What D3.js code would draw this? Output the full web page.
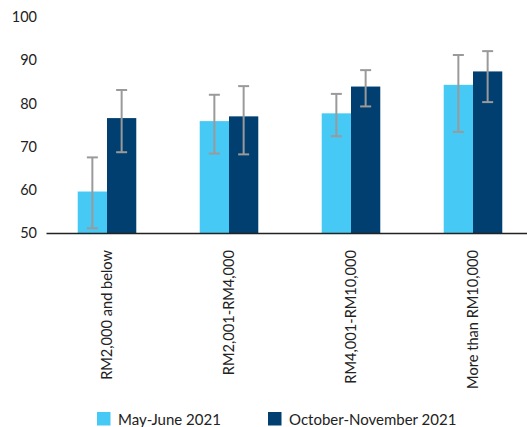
<!DOCTYPE html>
<html><head><meta charset="utf-8">
<script src="https://cdn.jsdelivr.net/npm/d3@7"></script>
<style>body{margin:0;background:#fff;} svg{display:block;font-family:Lato,"Open Sans",sans-serif;}</style>
</head><body><svg id="c" width="527" height="427"></svg>
<script>
const categories = ["RM2,000 and below","RM2,001-RM4,000","RM4,001-RM10,000","More than RM10,000"];
const seriesNames = ["May-June 2021","October-November 2021"];
const mayJune = [59.6, 75.9, 77.7, 84.3];
const mayJuneLow = [51.1, 68.4, 72.4, 73.4];
const mayJuneHigh = [67.5, 82.0, 82.2, 91.2];
const octNov = [76.6, 77.0, 83.9, 87.4];
const octNovLow = [68.7, 68.2, 79.3, 80.3];
const octNovHigh = [83.1, 84.0, 87.7, 92.1];
const yTicks = [50,60,70,80,90,100];
const colors = ["#46C9F5","#003F70"];

const svg = d3.select("#c");
const y = d3.scaleLinear().domain([50,100]).range([233,17]);
const x = d3.scaleBand().domain(categories).range([46,534]).paddingInner(0.52).paddingOuter(0.26);
const xs = d3.scaleBand().domain(seriesNames).range([0,x.bandwidth()]);

const data = [];
categories.forEach((c,i)=>{
  data.push({c, s:seriesNames[0], v:mayJune[i], lo:mayJuneLow[i], hi:mayJuneHigh[i], k:0});
  data.push({c, s:seriesNames[1], v:octNov[i], lo:octNovLow[i], hi:octNovHigh[i], k:1});
});

svg.selectAll("rect.bar").data(data).join("rect").attr("class","bar")
  .attr("x",d=>x(d.c)+xs(d.s)).attr("width",xs.bandwidth())
  .attr("y",d=>y(d.v)).attr("height",d=>y(50)-y(d.v))
  .attr("fill",d=>colors[d.k]);

// error bars
const eg = svg.append("g").attr("stroke","#9a9a9a").attr("stroke-width",2).attr("fill","none");
data.forEach(d=>{
  const cx = x(d.c)+xs(d.s)+xs.bandwidth()/2;
  eg.append("line").attr("x1",cx).attr("x2",cx).attr("y1",y(d.hi)).attr("y2",y(d.lo));
  eg.append("line").attr("x1",cx-5.5).attr("x2",cx+5.5).attr("y1",y(d.hi)).attr("y2",y(d.hi));
  eg.append("line").attr("x1",cx-5.5).attr("x2",cx+5.5).attr("y1",y(d.lo)).attr("y2",y(d.lo));
});

// y axis labels
const ya = svg.append("g").attr("transform","translate(37,0)").call(d3.axisLeft(y).tickValues(yTicks).tickSize(0).tickPadding(0));
ya.select(".domain").remove();
ya.selectAll("text").attr("font-size",14.5).attr("fill","#222").attr("font-family","Lato,'Open Sans',sans-serif");

// x axis
const xa = svg.append("g").attr("transform","translate(0,233)").call(d3.axisBottom(x).tickSize(0).tickPadding(0));
xa.select(".domain").attr("stroke","#222").attr("stroke-width",1.3);
xa.selectAll("text").attr("font-size",14.6).attr("fill","#222").attr("font-family","Lato,'Open Sans',sans-serif")
  .attr("transform","rotate(-90)").attr("text-anchor","end").attr("x",-17).attr("y",0).attr("dy","0.35em");

// legend
const legX = [97, 268];
const lg = svg.append("g");
seriesNames.forEach((s,i)=>{
  lg.append("rect").attr("x",legX[i]).attr("y",412).attr("width",13.5).attr("height",13.5).attr("fill",colors[i]);
  lg.append("text").attr("x",legX[i]+21).attr("y",424.5).attr("font-size",15).attr("fill","#222").text(s);
});
</script></body></html>
